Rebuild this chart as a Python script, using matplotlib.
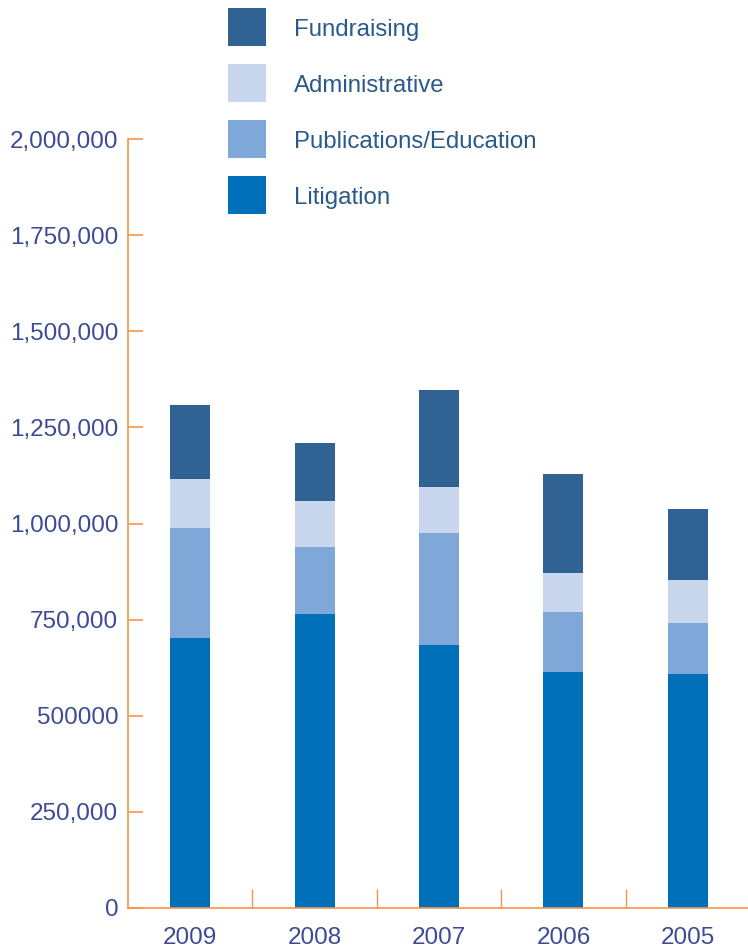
import numpy as np
import matplotlib
matplotlib.use('Agg')
import matplotlib.pyplot as plt
from matplotlib.patches import Rectangle

# Expenses by category
years = ['2009', '2008', '2007', '2006', '2005']
litigation = [702000, 765000, 684000, 614000, 609000]
publications = [286000, 174000, 291000, 156000, 132000]
administrative = [128000, 119000, 120000, 101000, 112000]
fundraising = [192000, 151000, 252000, 258000, 185000]

series_names = ['Litigation', 'Publications/Education', 'Administrative', 'Fundraising']
series_colors = ['#0070BA', '#7FA8D8', '#C8D6EE', '#306293']

ytick_vals = [0, 250000, 500000, 750000, 1000000, 1250000, 1500000, 1750000, 2000000]
ytick_labels = ['0', '250,000', '500000', '750,000', '1,000,000', '1,250,000',
                '1,500,000', '1,750,000', '2,000,000']

axis_col = '#F7934C'
tick_txt = '#3D4A97'
legend_txt = '#2A5A8A'

plt.rcParams['font.family'] = ['Liberation Sans', 'DejaVu Sans']

fig = plt.figure(figsize=(7.48, 9.5), dpi=100)
ax = fig.add_axes([128 / 748, 1 - 908 / 950, (750 - 128) / 748, (908 - 139) / 950])

x = np.arange(len(years))
bottom = np.zeros(len(years))
for vals, col in zip([litigation, publications, administrative, fundraising], series_colors):
    ax.bar(x, vals, width=0.32, bottom=bottom, color=col, linewidth=0)
    bottom += np.array(vals)

ax.set_xlim(-0.5, 4.5)
ax.set_ylim(0, 2000000)

for s in ['top', 'right']:
    ax.spines[s].set_visible(False)
for s in ['left', 'bottom']:
    ax.spines[s].set_color(axis_col)
    ax.spines[s].set_linewidth(1.2)

ax.set_yticks(ytick_vals)
ax.set_yticklabels(ytick_labels)
ax.tick_params(axis='y', direction='in', length=11, width=1.2, color=axis_col,
               labelcolor=tick_txt, labelsize=17.5, pad=7)

ax.set_xticks(x)
ax.set_xticklabels(years)
ax.tick_params(axis='x', which='major', length=0, labelcolor=tick_txt, labelsize=17.5, pad=14)
ax.set_xticks(x[:-1] + 0.5, minor=True)
ax.tick_params(axis='x', which='minor', direction='in', length=14, width=1.0, color=axis_col)

# legend block at the top
for i, name in enumerate(series_names[::-1]):
    col = series_colors[::-1][i]
    top_px = 8 + i * 56
    fig.add_artist(Rectangle((228 / 748, 1 - (top_px + 38) / 950), 38 / 748, 38 / 950,
                             transform=fig.transFigure, color=col, linewidth=0))
    fig.text(294 / 748, 1 - (top_px + 22) / 950, name, color=legend_txt,
             fontsize=17.3, va='center', ha='left')

fig.savefig('out.png', dpi=100)
